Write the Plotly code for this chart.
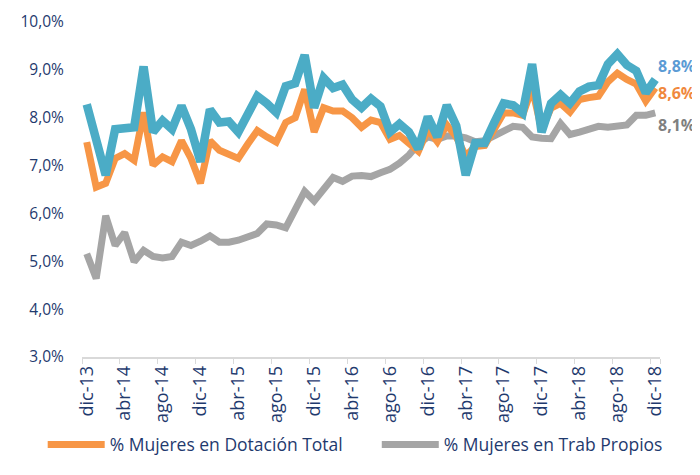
import plotly.graph_objects as go


MESES = ['ene', 'feb', 'mar', 'abr', 'may', 'jun', 'jul', 'ago', 'sep', 'oct', 'nov', 'dic']
PERIODOS = ['dic-13'] + [f'{m}-{a}' for a in range(14, 19) for m in MESES]

# % Mujeres (serie azul, sin leyenda)
PCT_AZUL = [8.28, 7.5, 6.8, 7.76, 7.78, 7.8, 9.07, 7.7, 7.94, 7.76, 8.25, 7.76, 7.08,
            8.17, 7.9, 7.92, 7.7, 8.05, 8.45, 8.3, 8.11, 8.66, 8.72, 9.31, 8.21,
            8.83, 8.62, 8.69, 8.38, 8.21, 8.4, 8.24, 7.7, 7.87, 7.7, 7.35, 8.02,
            7.6, 8.26, 7.83, 6.8, 7.47, 7.47, 7.9, 8.3, 8.26, 8.1, 9.12, 7.7,
            8.3, 8.48, 8.3, 8.55, 8.65, 8.68, 9.12, 9.33, 9.1, 8.98, 8.52, 8.8]

# % Mujeres en Dotación Total
PCT_DOTACION = [7.49, 6.55, 6.63, 7.15, 7.25, 7.11, 8.11, 7.01, 7.18, 7.08, 7.52, 7.15, 6.63,
                7.52, 7.32, 7.25, 7.15, 7.45, 7.73, 7.6, 7.49, 7.9, 8.0, 8.59, 7.7,
                8.21, 8.14, 8.14, 8.0, 7.8, 7.95, 7.9, 7.55, 7.63, 7.45, 7.3, 7.75,
                7.5, 7.85, 7.6, 7.2, 7.4, 7.42, 7.78, 8.1, 8.1, 8.05, 8.62, 7.75,
                8.2, 8.3, 8.12, 8.38, 8.42, 8.45, 8.75, 8.93, 8.8, 8.7, 8.35, 8.62]

# % Mujeres en Trab Propios
PCT_PROPIOS = [5.16, 4.64, 5.95, 5.33, 5.6, 4.99, 5.23, 5.1, 5.07, 5.1, 5.4, 5.33, 5.42,
               5.53, 5.4, 5.4, 5.44, 5.5, 5.58, 5.78, 5.76, 5.7, 6.05, 6.46, 6.26,
               6.5, 6.75, 6.67, 6.78, 6.79, 6.77, 6.85, 6.92, 7.05, 7.22, 7.45, 7.6,
               7.55, 7.62, 7.62, 7.58, 7.5, 7.52, 7.62, 7.72, 7.82, 7.8, 7.6, 7.57,
               7.56, 7.88, 7.65, 7.7, 7.75, 7.82, 7.8, 7.82, 7.85, 8.05, 8.05, 8.1]

NAVY = '#1F3A6E'
FONT = 'Open Sans, Lato, sans-serif'


def add_series(fig, values, color, name, width, show=True, legend='legend'):
    """Добавляет линию ряда на график."""
    fig.add_trace(go.Scatter(
        x=PERIODOS,
        y=values,
        mode='lines',
        line=dict(color=color, width=width),
        name=name,
        showlegend=show,
        legend=legend,
        hoverinfo='x+y'
    ))


def add_end_label(fig, values, color, yshift):
    """Подпись последнего значения справа от линии."""
    fig.add_annotation(
        x=PERIODOS[-1], y=values[-1],
        text=f'<b>{values[-1]:.1f}%</b>'.replace('.', ','),
        showarrow=False,
        xanchor='left', yanchor='middle',
        xshift=1, yshift=yshift,
        font=dict(family=FONT, size=16, color=color)
    )


def build_chart():
    """Доля женщин, дек-13 — дек-18."""
    fig = go.Figure()

    # Линии (серая снизу, синяя сверху)
    add_series(fig, PCT_PROPIOS, '#A5A5A5', '% Mujeres en Trab Propios', 7, legend='legend2')
    add_series(fig, PCT_DOTACION, '#F79646', '% Mujeres en Dotación Total', 7)
    add_series(fig, PCT_AZUL, '#4BACC6', '% Mujeres', 8.5, show=False)

    # Подписи справа
    add_end_label(fig, PCT_AZUL, '#5B9BD5', 13)
    add_end_label(fig, PCT_DOTACION, '#F0883E', -5)
    add_end_label(fig, PCT_PROPIOS, '#808080', -12)

    legend_font = dict(size=17.5, color=NAVY)
    fig.update_layout(
        width=692,   # страница имеет отступ 8px
        height=467,
        margin=dict(l=74, r=40, t=14, b=113),
        font=dict(family=FONT, size=15, color=NAVY),
        separators=',.',
        xaxis=dict(
            type='category',
            range=[-0.5, 60.5],
            tickvals=PERIODOS[::4],
            tickangle=-90,
            tickson='boundaries',
            ticks='outside', ticklen=5, tickcolor='#D9D9D9',
            showline=True, linecolor='#D9D9D9', linewidth=1.5,
            showgrid=False,
            tickfont=dict(size=18, color=NAVY)
        ),
        yaxis=dict(
            range=[3, 10],
            dtick=1,
            tickformat='.1f',
            ticksuffix='%',
            ticks='outside', ticklen=14, tickcolor='rgba(0,0,0,0)',  # отступ подписей
            automargin=False,
            showgrid=False,
            zeroline=False,
            showline=False,
            tickfont=dict(size=15.5, color=NAVY)
        ),
        showlegend=True,
        legend=dict(orientation='h', x=-0.068, xanchor='left', y=-0.315, yanchor='bottom',
                    itemwidth=57, font=legend_font),
        legend2=dict(orientation='h', x=0.51, xanchor='left', y=-0.315, yanchor='bottom',
                     itemwidth=57, font=legend_font),
        plot_bgcolor='white',
        paper_bgcolor='white',
        hovermode='closest'
    )

    return fig


fig = build_chart()
fig.write_html('out.html')
